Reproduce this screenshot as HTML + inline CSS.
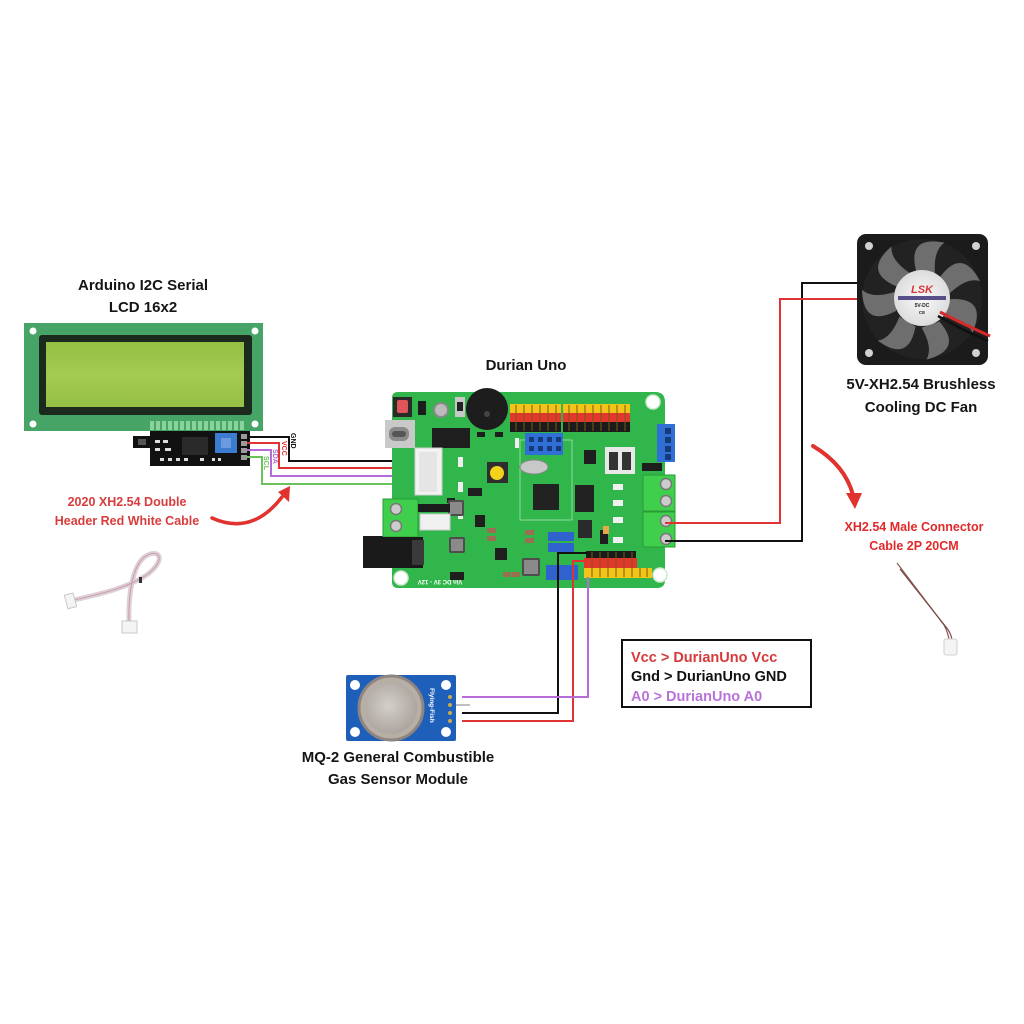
<!DOCTYPE html>
<html><head><meta charset="utf-8"><style>
html,body{margin:0;padding:0;background:#fff;}
svg{display:block;}
text{font-family:"Liberation Sans",sans-serif;font-weight:bold;}
</style></head><body>
<svg width="1024" height="1024" viewBox="0 0 1024 1024" xmlns="http://www.w3.org/2000/svg">
<rect width="1024" height="1024" fill="#fff"/>

<!-- ===== Titles ===== -->
<text x="143" y="290" font-size="15" text-anchor="middle" fill="#151515">Arduino I2C Serial</text>
<text x="143" y="312" font-size="15" text-anchor="middle" fill="#151515">LCD 16x2</text>
<text x="526" y="370" font-size="15" text-anchor="middle" fill="#151515">Durian Uno</text>
<text x="921" y="389" font-size="15" text-anchor="middle" fill="#151515">5V-XH2.54 Brushless</text>
<text x="921" y="412" font-size="15" text-anchor="middle" fill="#151515">Cooling DC Fan</text>
<text x="398" y="762" font-size="15" text-anchor="middle" fill="#151515">MQ-2 General Combustible</text>
<text x="398" y="784" font-size="15" text-anchor="middle" fill="#151515">Gas Sensor Module</text>

<text x="127" y="506" font-size="12.5" text-anchor="middle" fill="#d83c3c">2020 XH2.54 Double</text>
<text x="127" y="525" font-size="12.5" text-anchor="middle" fill="#d83c3c">Header Red White Cable</text>
<text x="914" y="531" font-size="12.5" text-anchor="middle" fill="#e02a2a">XH2.54 Male Connector</text>
<text x="914" y="550" font-size="12.5" text-anchor="middle" fill="#e02a2a">Cable 2P 20CM</text>

<!-- ===== Legend box ===== -->
<rect x="622" y="640" width="189" height="67" fill="#fff" stroke="#111" stroke-width="2"/>
<text x="631" y="662" font-size="14.5" fill="#d63a3a">Vcc &gt; DurianUno Vcc</text>
<text x="631" y="681" font-size="14.5" fill="#111">Gnd &gt; DurianUno GND</text>
<text x="631" y="701" font-size="14.5" fill="#b873d8">A0 &gt; DurianUno A0</text>

<!-- ===== LCD ===== -->
<rect x="24" y="323" width="239" height="108" fill="#45a466"/>
<circle cx="33" cy="331" r="3.5" fill="#fff"/>
<circle cx="255" cy="331" r="3.5" fill="#fff"/>
<circle cx="33" cy="424" r="3.5" fill="#fff"/>
<circle cx="255" cy="424" r="3.5" fill="#fff"/>
<rect x="39" y="335" width="213" height="80" rx="3" fill="#1c2a1e"/>
<defs>
<linearGradient id="scr" x1="0" y1="0" x2="0" y2="1">
<stop offset="0" stop-color="#93bf43"/><stop offset="0.5" stop-color="#a4ca52"/><stop offset="1" stop-color="#95bf45"/>
</linearGradient>
<radialGradient id="hub" cx="0.5" cy="0.5" r="0.5">
<stop offset="0" stop-color="#fafafa"/><stop offset="1" stop-color="#dcdcdc"/>
</radialGradient>
<radialGradient id="mq" cx="0.45" cy="0.45" r="0.6">
<stop offset="0" stop-color="#d4cfca"/><stop offset="1" stop-color="#a9a29c"/>
</radialGradient>
</defs>
<rect x="46" y="342" width="198" height="65" fill="url(#scr)"/>
<!-- pin header -->
<g fill="#8ad39b">
<rect x="150" y="421" width="4" height="9"/><rect x="156" y="421" width="4" height="9"/><rect x="162" y="421" width="4" height="9"/><rect x="168" y="421" width="4" height="9"/>
<rect x="174" y="421" width="4" height="9"/><rect x="180" y="421" width="4" height="9"/><rect x="186" y="421" width="4" height="9"/><rect x="192" y="421" width="4" height="9"/>
<rect x="198" y="421" width="4" height="9"/><rect x="204" y="421" width="4" height="9"/><rect x="210" y="421" width="4" height="9"/><rect x="216" y="421" width="4" height="9"/>
<rect x="222" y="421" width="4" height="9"/><rect x="228" y="421" width="4" height="9"/><rect x="234" y="421" width="4" height="9"/><rect x="240" y="421" width="4" height="9"/>
</g>
<!-- backpack -->
<rect x="133" y="436" width="18" height="12" fill="#111"/>
<rect x="138" y="439" width="8" height="6" fill="#555"/>
<rect x="150" y="431" width="100" height="35" fill="#111"/>
<rect x="182" y="437" width="26" height="18" fill="#2a2a2a"/>
<rect x="215" y="433" width="22" height="20" fill="#3b7bd0"/>
<rect x="221" y="438" width="10" height="10" fill="#6a9be0"/>
<g fill="#ddd">
<rect x="155" y="440" width="5" height="3"/><rect x="163" y="440" width="5" height="3"/><rect x="155" y="448" width="5" height="3"/>
<rect x="165" y="448" width="6" height="3"/><rect x="160" y="458" width="4" height="3"/><rect x="168" y="458" width="4" height="3"/>
<rect x="176" y="458" width="4" height="3"/><rect x="184" y="458" width="4" height="3"/><rect x="200" y="458" width="4" height="3"/>
<rect x="212" y="458" width="3" height="3"/><rect x="218" y="458" width="3" height="3"/>
</g>
<g fill="#9a9a9a">
<rect x="241" y="434" width="6" height="5"/><rect x="241" y="441" width="6" height="5"/><rect x="241" y="448" width="6" height="5"/><rect x="241" y="455" width="6" height="5"/>
</g>

<!-- LCD wires -->
<g fill="none" stroke-width="2">
<polyline points="247,437 289,437 289,461 432,461" stroke="#111"/>
<polyline points="247,443 279,443 279,468 432,468" stroke="#e03434"/>
<polyline points="247,450 271,450 271,476 432,476" stroke="#b56cd6"/>
<polyline points="247,457 262,457 262,484 432,484" stroke="#6cc25a"/>
</g>
<g font-size="7" font-family="Liberation Sans, sans-serif">
<text transform="translate(291,433) rotate(90)" fill="#111">GND</text>
<text transform="translate(282,441) rotate(90)" fill="#e03434">VCC</text>
<text transform="translate(273,449) rotate(90)" fill="#b56cd6">SDA</text>
<text transform="translate(264,456) rotate(90)" fill="#6cc25a">SCL</text>
</g>

<!-- left arrow -->
<path d="M212,518 Q252,536 282,497" fill="none" stroke="#e0322f" stroke-width="3.5" stroke-linecap="round"/>
<polygon points="290,486 278,492 289,502" fill="#e0322f"/>

<!-- left cable image -->
<path d="M74,600 C100,594 128,588 148,574 C166,560 160,548 146,556 C134,563 128,590 129,622" fill="none" stroke="#ddd0d8" stroke-width="5" stroke-linecap="round"/>
<path d="M74,600 C100,594 128,588 148,574 C166,560 160,548 146,556 C134,563 128,590 129,622" fill="none" stroke="#c99aa8" stroke-width="1"/>
<rect x="139" y="577" width="3" height="6" fill="#333"/>
<rect x="66" y="594" width="9" height="14" fill="#f4f4f4" stroke="#c8c8c8" stroke-width="1" transform="rotate(-15 70 601)"/>
<rect x="122" y="621" width="15" height="12" fill="#f4f4f4" stroke="#c8c8c8" stroke-width="1"/>

<!-- ===== Durian Uno board ===== -->
<rect x="363" y="536" width="30" height="32" fill="#1a1a1a"/>
<path d="M392,398 Q392,392 398,392 L655,392 Q665,392 665,402 L665,580 Q665,588 657,588 L398,588 Q392,588 392,582 Z" fill="#30b64b"/>
<!-- holes -->
<circle cx="653" cy="402" r="7" fill="#fff" stroke="#cfe8cf" stroke-width="1.5"/>
<circle cx="401" cy="578" r="7" fill="#fff" stroke="#cfe8cf" stroke-width="1.5"/>
<circle cx="660" cy="575" r="7" fill="#fff" stroke="#cfe8cf" stroke-width="1.5"/>
<!-- reset -->
<rect x="393" y="397" width="19" height="20" fill="#2a2a2a"/>
<rect x="397" y="400" width="11" height="13" rx="2" fill="#e0555a"/>
<rect x="418" y="401" width="8" height="14" fill="#1c1c1c"/>
<circle cx="441" cy="410" r="7" fill="#bbb" stroke="#888" stroke-width="2"/>
<rect x="455" y="397" width="10" height="20" fill="#c8c8c8"/>
<rect x="457" y="402" width="6" height="9" fill="#222"/>
<!-- buzzer -->
<circle cx="487" cy="409" r="21" fill="#1d1d1d"/>
<circle cx="487" cy="414" r="3" fill="#444"/>
<!-- USB C -->
<rect x="385" y="420" width="30" height="28" fill="#c9c9c9"/>
<rect x="389" y="427" width="20" height="14" rx="6" fill="#8a8a8a"/>
<rect x="392" y="431" width="14" height="6" rx="3" fill="#555"/>
<!-- IC -->
<rect x="432" y="428" width="38" height="20" fill="#1e1e1e"/>
<!-- white connector -->
<rect x="415" y="448" width="27" height="47" fill="#f2f2f2" stroke="#cfcfcf"/>
<rect x="419" y="452" width="18" height="40" fill="#e5e5e5"/>
<!-- small leds / parts -->
<g fill="#eee">
<rect x="458" y="457" width="5" height="10"/><rect x="458" y="482" width="5" height="10"/><rect x="458" y="509" width="5" height="10"/>
<rect x="515" y="438" width="4" height="10"/>
</g>
<g fill="#1e1e1e">
<rect x="477" y="432" width="8" height="5"/><rect x="495" y="432" width="8" height="5"/><rect x="468" y="488" width="14" height="8"/>
<rect x="475" y="515" width="10" height="12"/><rect x="447" y="498" width="8" height="5"/>
<rect x="450" y="572" width="14" height="8"/><rect x="495" y="548" width="12" height="12"/>
<rect x="600" y="530" width="8" height="14"/>
</g>
<!-- yellow button -->
<rect x="487" y="462" width="21" height="21" fill="#2e2e2e"/>
<circle cx="497" cy="473" r="7" fill="#f3d21c"/>
<!-- mcu area -->
<rect x="520" y="440" width="52" height="80" fill="none" stroke="#8fd89c" stroke-width="1"/>
<ellipse cx="534" cy="467" rx="14" ry="7" fill="#c8c8c8" stroke="#888"/>
<rect x="533" y="484" width="26" height="26" fill="#222"/>
<!-- right ICs -->
<rect x="575" y="485" width="19" height="27" fill="#222"/>
<rect x="584" y="450" width="12" height="14" fill="#1e1e1e"/>
<rect x="578" y="520" width="14" height="18" fill="#2a2a2a"/>
<rect x="605" y="447" width="30" height="27" fill="#e8e8e8"/>
<rect x="609" y="452" width="9" height="18" fill="#333"/>
<rect x="622" y="452" width="9" height="18" fill="#333"/>
<g fill="#f0f0f0">
<rect x="613" y="484" width="10" height="6"/><rect x="613" y="500" width="10" height="6"/><rect x="613" y="517" width="10" height="6"/><rect x="613" y="537" width="10" height="6"/>
</g>
<rect x="603" y="526" width="6" height="8" fill="#e8a84a"/>
<!-- inductors & caps -->
<rect x="448" y="500" width="16" height="16" rx="2" fill="#4d4d4d"/>
<rect x="450" y="502" width="12" height="12" fill="#8a8a8a"/>
<rect x="449" y="537" width="16" height="16" rx="2" fill="#4d4d4d"/>
<rect x="451" y="539" width="12" height="12" fill="#8a8a8a"/>
<rect x="522" y="558" width="18" height="18" rx="2" fill="#4d4d4d"/>
<rect x="524" y="560" width="14" height="14" fill="#8a8a8a"/>
<g fill="#9b6e52">
<rect x="487" y="528" width="9" height="5"/><rect x="487" y="536" width="9" height="5"/><rect x="525" y="530" width="9" height="5"/><rect x="525" y="538" width="9" height="5"/>
<rect x="503" y="572" width="8" height="5"/><rect x="512" y="572" width="8" height="5"/>
</g>
<!-- top headers -->
<rect x="510" y="404" width="51" height="9" fill="#f2c41a"/>
<rect x="510" y="413" width="51" height="9" fill="#e3362d"/>
<rect x="510" y="422" width="51" height="10" fill="#1b1b1b"/>
<rect x="563" y="404" width="67" height="9" fill="#f2c41a"/>
<rect x="563" y="413" width="67" height="9" fill="#e3362d"/>
<rect x="563" y="422" width="67" height="10" fill="#1b1b1b"/>
<g stroke="#7a5a10" stroke-width="1">
<line x1="516" y1="405" x2="516" y2="431"/><line x1="524" y1="405" x2="524" y2="431"/><line x1="532" y1="405" x2="532" y2="431"/><line x1="540" y1="405" x2="540" y2="431"/><line x1="548" y1="405" x2="548" y2="431"/><line x1="556" y1="405" x2="556" y2="431"/>
<line x1="569" y1="405" x2="569" y2="431"/><line x1="577" y1="405" x2="577" y2="431"/><line x1="585" y1="405" x2="585" y2="431"/><line x1="593" y1="405" x2="593" y2="431"/><line x1="601" y1="405" x2="601" y2="431"/><line x1="609" y1="405" x2="609" y2="431"/><line x1="617" y1="405" x2="617" y2="431"/><line x1="625" y1="405" x2="625" y2="431"/>
</g>
<!-- blue 2x4 -->
<rect x="525" y="433" width="38" height="22" fill="#2f6fd6"/>
<g fill="#173a7a">
<rect x="529" y="437" width="5" height="5"/><rect x="538" y="437" width="5" height="5"/><rect x="547" y="437" width="5" height="5"/><rect x="556" y="437" width="5" height="5"/>
<rect x="529" y="446" width="5" height="5"/><rect x="538" y="446" width="5" height="5"/><rect x="547" y="446" width="5" height="5"/><rect x="556" y="446" width="5" height="5"/>
</g>
<!-- BLT -->
<rect x="657" y="424" width="18" height="38" fill="#2f6fd6"/>
<g fill="#173a7a"><rect x="665" y="428" width="6" height="6"/><rect x="665" y="437" width="6" height="6"/><rect x="665" y="446" width="6" height="6"/><rect x="665" y="454" width="6" height="6"/></g>
<rect x="642" y="463" width="20" height="8" fill="#1e1e1e"/>
<!-- right terminals -->
<rect x="643" y="475" width="32" height="36" fill="#3fcf4d" stroke="#2a9a35"/>
<rect x="643" y="512" width="32" height="35" fill="#3fcf4d" stroke="#2a9a35"/>
<g fill="#ccc" stroke="#777" stroke-width="1.5">
<circle cx="666" cy="484" r="5.5"/><circle cx="666" cy="501" r="5.5"/><circle cx="666" cy="521" r="5.5"/><circle cx="666" cy="539" r="5.5"/>
</g>
<!-- left terminal -->
<rect x="383" y="499" width="35" height="38" fill="#3fcf4d" stroke="#2a9a35"/>
<g fill="#ccc" stroke="#777" stroke-width="1.5"><circle cx="396" cy="509" r="5.5"/><circle cx="396" cy="526" r="5.5"/></g>
<rect x="420" y="514" width="30" height="16" fill="#f0f0f0" stroke="#ccc"/>
<rect x="418" y="504" width="32" height="8" fill="#1c1c1c"/>
<!-- DC jack -->
<rect x="363" y="537" width="60" height="31" fill="#1a1a1a"/>
<rect x="412" y="540" width="12" height="25" fill="#3a3a3a"/>
<!-- blue jumpers -->
<rect x="548" y="532" width="26" height="9" fill="#2f62cc"/>
<rect x="548" y="543" width="26" height="9" fill="#2f62cc"/>
<rect x="546" y="565" width="32" height="15" fill="#2f62cc"/>
<!-- bottom headers -->
<rect x="586" y="551" width="50" height="7" fill="#1b1b1b"/>
<rect x="584" y="558" width="53" height="10" fill="#e3362d"/>
<rect x="584" y="568" width="68" height="10" fill="#f2c41a"/>
<g stroke="#7a5a10" stroke-width="1">
<line x1="592" y1="552" x2="592" y2="577"/><line x1="600" y1="552" x2="600" y2="577"/><line x1="608" y1="552" x2="608" y2="577"/><line x1="616" y1="552" x2="616" y2="577"/><line x1="624" y1="552" x2="624" y2="577"/><line x1="632" y1="552" x2="632" y2="577"/><line x1="640" y1="568" x2="640" y2="577"/><line x1="647" y1="568" x2="647" y2="577"/>
</g>
<text transform="translate(440,580) rotate(180)" font-size="6" fill="#fff" text-anchor="middle">Vin DC 3V - 12V</text>

<!-- board->MQ2 wires -->
<g fill="none" stroke-width="2">
<polyline points="588,553 558,553 558,713 462,713" stroke="#111"/>
<polyline points="587,561 573,561 573,721 462,721" stroke="#e03434"/>
<polyline points="588,577 588,697 462,697" stroke="#b56cd6"/>
<line x1="456" y1="705" x2="470" y2="705" stroke="#aaa" stroke-width="1.5"/>
</g>

<!-- fan wires -->
<g fill="none" stroke-width="2">
<polyline points="665,541 802,541 802,283 858,283" stroke="#111"/>
<polyline points="665,523 780,523 780,299 858,299" stroke="#e03434"/>
</g>

<!-- ===== MQ-2 ===== -->
<rect x="346" y="675" width="110" height="66" rx="2" fill="#1e5fb9"/>
<circle cx="355" cy="685" r="5" fill="#fff"/>
<circle cx="446" cy="685" r="5" fill="#fff"/>
<circle cx="355" cy="732" r="5" fill="#fff"/>
<circle cx="446" cy="732" r="5" fill="#fff"/>
<circle cx="391" cy="708" r="32" fill="#b7aea6" stroke="#8e8580" stroke-width="3"/>
<circle cx="391" cy="708" r="26" fill="url(#mq)"/>
<g fill="#c9a94a"><circle cx="450" cy="697" r="2"/><circle cx="450" cy="705" r="2"/><circle cx="450" cy="713" r="2"/><circle cx="450" cy="721" r="2"/></g>
<text transform="translate(430,688) rotate(90)" font-size="6.5" fill="#fff">Flying-Fish</text>

<!-- ===== Fan ===== -->
<rect x="857" y="234" width="131" height="131" rx="9" fill="#1b1b1b"/>
<circle cx="922" cy="299" r="60" fill="#222"/>
<g fill="#6e6e6e" transform="translate(922,299)">
<path d="M18,-22 Q40,-52 58,-18 Q45,-22 28,-6 Z"/>
<path d="M18,-22 Q40,-52 58,-18 Q45,-22 28,-6 Z" transform="rotate(51)"/>
<path d="M18,-22 Q40,-52 58,-18 Q45,-22 28,-6 Z" transform="rotate(103)"/>
<path d="M18,-22 Q40,-52 58,-18 Q45,-22 28,-6 Z" transform="rotate(154)"/>
<path d="M18,-22 Q40,-52 58,-18 Q45,-22 28,-6 Z" transform="rotate(206)"/>
<path d="M18,-22 Q40,-52 58,-18 Q45,-22 28,-6 Z" transform="rotate(257)"/>
<path d="M18,-22 Q40,-52 58,-18 Q45,-22 28,-6 Z" transform="rotate(309)"/>
</g>
<g fill="#fff" opacity="0.8">
<circle cx="869" cy="246" r="4"/><circle cx="976" cy="246" r="4"/><circle cx="869" cy="353" r="4"/><circle cx="976" cy="353" r="4"/>
</g>
<circle cx="922" cy="298" r="28" fill="url(#hub)"/>
<text x="922" y="293" font-size="11" text-anchor="middle" fill="#d8383c" font-style="italic">LSK</text>
<rect x="898" y="296" width="48" height="4" fill="#5a4e8a"/>
<text x="922" y="307" font-size="5" text-anchor="middle" fill="#222">5V-DC</text>
<text x="922" y="314" font-size="4.5" text-anchor="middle" fill="#222">CE</text>
<path d="M940,312 Q965,325 990,336" fill="none" stroke="#d52a2a" stroke-width="3"/>
<path d="M938,316 Q962,330 988,341" fill="none" stroke="#111" stroke-width="2.5"/>

<!-- right arrow -->
<path d="M813,446 Q845,465 853,495" fill="none" stroke="#e0322f" stroke-width="4" stroke-linecap="round"/>
<polygon points="846,493 862,493 855,509" fill="#e0322f"/>

<!-- right connector cable -->
<path d="M897,563 L944,625 Q948,632 949,640" fill="none" stroke="#8a5a50" stroke-width="1.2"/>
<path d="M900,569 L946,627 Q951,633 952,640" fill="none" stroke="#7a4a44" stroke-width="1.2"/>
<rect x="944" y="639" width="13" height="16" rx="2" fill="#f4f4f4" stroke="#cfcfcf"/>
</svg>
</body></html>
